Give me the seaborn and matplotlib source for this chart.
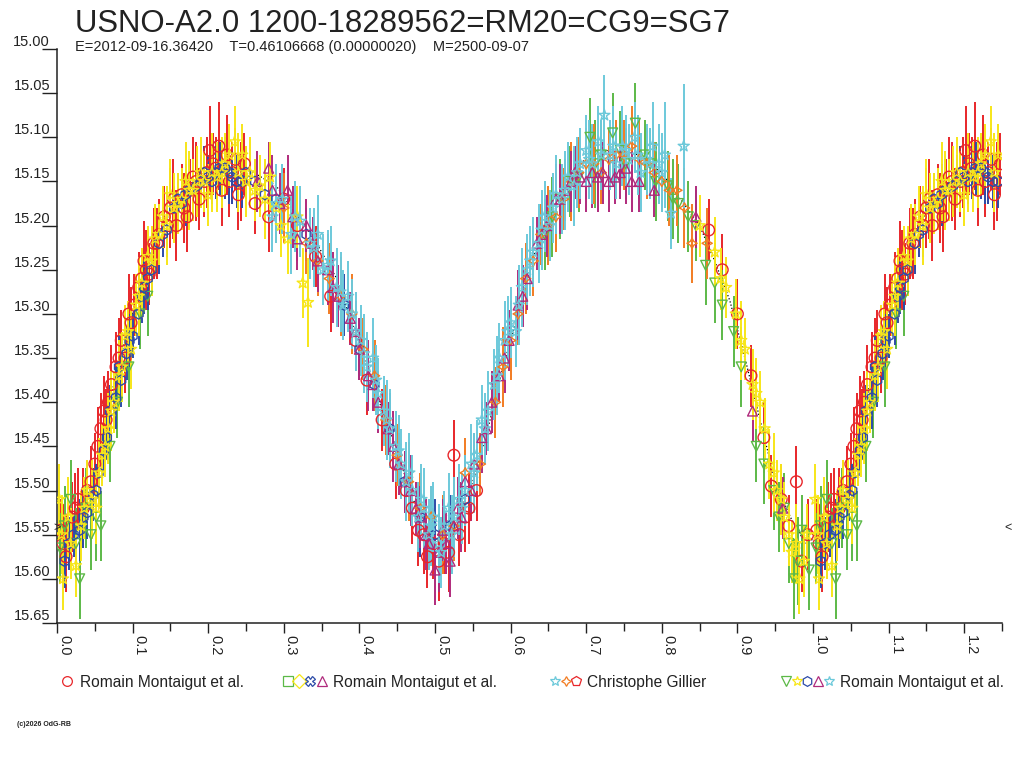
import numpy as np
import pandas as pd
import matplotlib
matplotlib.use("Agg")
import matplotlib.pyplot as plt
import seaborn as sns
from matplotlib.lines import Line2D
from matplotlib.legend_handler import HandlerTuple
from matplotlib.ticker import MultipleLocator, FormatStrFormatter

# --- Light curve data (phase, magnitude, error) ---
red_phase = [0.005, 0.012, 0.020, 0.028, 0.035, 0.045, 0.050, 0.058, 0.065, 0.072,
             0.078, 0.085, 0.090, 0.095, 0.102, 0.108, 0.115, 0.122, 0.128, 0.135,
             0.142, 0.150, 0.158, 0.165, 0.172, 0.180, 0.188, 0.195, 0.202, 0.210,
             0.218, 0.225, 0.232, 0.240, 0.248, 0.262, 0.280, 0.300, 0.318, 0.342,
             0.362, 0.395, 0.410, 0.430, 0.448, 0.462, 0.478, 0.490, 0.505, 0.512,
             0.525, 0.532, 0.545, 0.555, 0.862, 0.880, 0.900, 0.918, 0.935, 0.945,
             0.958, 0.968, 0.978, 0.985, 0.993,
             0.008, 0.024, 0.040, 0.054, 0.062, 0.068, 0.082, 0.098, 0.112, 0.118,
             0.132, 0.146, 0.154, 0.168, 0.176, 0.184, 0.198, 0.206, 0.214, 0.228,
             0.236, 0.244, 0.470, 0.485, 0.498, 0.518, 0.540]
red_mag = [15.545, 15.575, 15.530, 15.510, 15.520, 15.490, 15.470, 15.430, 15.420, 15.380,
           15.360, 15.330, 15.350, 15.300, 15.290, 15.270, 15.240, 15.255, 15.220, 15.210,
           15.190, 15.180, 15.200, 15.165, 15.190, 15.145, 15.170, 15.150, 15.115, 15.135,
           15.160, 15.120, 15.140, 15.165, 15.130, 15.175, 15.190, 15.170, 15.200, 15.235,
           15.280, 15.330, 15.375, 15.420, 15.470, 15.500, 15.545, 15.575, 15.580, 15.560,
           15.460, 15.550, 15.520, 15.500, 15.205, 15.250, 15.300, 15.370, 15.440, 15.495,
           15.510, 15.540, 15.490, 15.580, 15.550,
           15.560, 15.520, 15.500, 15.450, 15.410, 15.400, 15.350, 15.310, 15.260, 15.250,
           15.220, 15.200, 15.170, 15.180, 15.160, 15.150, 15.140, 15.130, 15.110, 15.150,
           15.125, 15.150, 15.520, 15.550, 15.560, 15.570, 15.530]
red_err = [0.035, 0.040, 0.040, 0.035, 0.045, 0.040, 0.035, 0.040, 0.035, 0.045,
           0.040, 0.035, 0.040, 0.045, 0.035, 0.040, 0.045, 0.035, 0.040, 0.040,
           0.035, 0.045, 0.040, 0.035, 0.040, 0.045, 0.035, 0.040, 0.050, 0.035,
           0.040, 0.045, 0.035, 0.040, 0.035, 0.035, 0.040, 0.035, 0.040, 0.035,
           0.040, 0.035, 0.040, 0.035, 0.040, 0.035, 0.040, 0.035, 0.045, 0.035,
           0.040, 0.035, 0.040, 0.035, 0.035, 0.040, 0.040, 0.035, 0.040, 0.035,
           0.040, 0.035, 0.040, 0.035, 0.040,
           0.045, 0.040, 0.035, 0.045, 0.040, 0.035, 0.045, 0.040, 0.035, 0.045,
           0.040, 0.035, 0.045, 0.040, 0.035, 0.045, 0.040, 0.035, 0.050, 0.040,
           0.035, 0.045, 0.040, 0.045, 0.040, 0.045, 0.040]

blue_phase = [0.010, 0.022, 0.030, 0.040, 0.048, 0.055, 0.062, 0.070, 0.078, 0.085,
              0.092, 0.100, 0.108, 0.115, 0.125, 0.135, 0.145, 0.155, 0.165, 0.175,
              0.185, 0.195, 0.205, 0.215, 0.228, 0.238, 0.250, 0.262, 0.275, 0.290,
              0.330, 0.380, 0.420, 0.460, 0.500, 0.540,
              0.016, 0.035, 0.052, 0.066, 0.082, 0.096, 0.112, 0.120, 0.140, 0.160,
              0.170, 0.190, 0.200, 0.210, 0.222, 0.232, 0.245, 0.400, 0.440, 0.480,
              0.520]
blue_mag = [15.580, 15.550, 15.545, 15.525, 15.505, 15.480, 15.455, 15.410, 15.395, 15.375,
            15.345, 15.325, 15.300, 15.270, 15.250, 15.220, 15.205, 15.180, 15.175, 15.160,
            15.155, 15.140, 15.150, 15.135, 15.140, 15.150, 15.140, 15.150, 15.165, 15.170,
            15.210, 15.290, 15.380, 15.490, 15.550, 15.510,
            15.560, 15.530, 15.500, 15.440, 15.360, 15.330, 15.280, 15.260, 15.210, 15.170,
            15.165, 15.150, 15.145, 15.140, 15.135, 15.145, 15.150, 15.340, 15.430, 15.530,
            15.540]
blue_err = [0.030, 0.025, 0.035, 0.030, 0.030, 0.035, 0.025, 0.030, 0.035, 0.030,
            0.030, 0.025, 0.035, 0.030, 0.030, 0.035, 0.030, 0.025, 0.030, 0.035,
            0.030, 0.030, 0.025, 0.030, 0.035, 0.030, 0.030, 0.025, 0.030, 0.030,
            0.030, 0.035, 0.030, 0.035, 0.040, 0.030,
            0.030, 0.035, 0.030, 0.025, 0.035, 0.030, 0.030, 0.035, 0.025, 0.030,
            0.035, 0.030, 0.025, 0.030, 0.035, 0.030, 0.030, 0.035, 0.040, 0.045,
            0.035]

yellow_phase = [0.003, 0.008, 0.015, 0.025, 0.032, 0.040, 0.052, 0.060, 0.068, 0.075,
                0.082, 0.090, 0.098, 0.105, 0.112, 0.120, 0.130, 0.140, 0.150, 0.160,
                0.170, 0.180, 0.190, 0.200, 0.212, 0.222, 0.235, 0.245, 0.255, 0.268,
                0.282, 0.296, 0.305, 0.318, 0.325, 0.332, 0.850, 0.870, 0.885, 0.898,
                0.910, 0.920, 0.930, 0.942, 0.952, 0.962, 0.972, 0.982, 0.992,
                0.006, 0.018, 0.036, 0.046, 0.056, 0.064, 0.072, 0.086, 0.094, 0.108,
                0.125, 0.135, 0.145, 0.155, 0.165, 0.175, 0.185, 0.195, 0.205, 0.218,
                0.228, 0.240, 0.250, 0.262, 0.275, 0.290, 0.878, 0.905, 0.925, 0.936,
                0.948, 0.958, 0.968, 0.978, 0.988]
yellow_mag = [15.510, 15.600, 15.530, 15.585, 15.540, 15.500, 15.520, 15.460, 15.430, 15.400,
              15.370, 15.325, 15.340, 15.290, 15.265, 15.235, 15.215, 15.190, 15.165, 15.175,
              15.150, 15.160, 15.140, 15.165, 15.145, 15.130, 15.105, 15.120, 15.140, 15.155,
              15.145, 15.200, 15.215, 15.190, 15.265, 15.287, 15.200, 15.230, 15.270, 15.300,
              15.340, 15.380, 15.400, 15.470, 15.500, 15.530, 15.570, 15.600, 15.550,
              15.550, 15.560, 15.520, 15.510, 15.480, 15.450, 15.410, 15.360, 15.320, 15.280,
              15.240, 15.210, 15.200, 15.180, 15.170, 15.160, 15.150, 15.150, 15.140, 15.140,
              15.120, 15.140, 15.150, 15.160, 15.170, 15.180, 15.260, 15.330, 15.390, 15.430,
              15.480, 15.510, 15.550, 15.560, 15.580]
yellow_err = [0.040, 0.035, 0.045, 0.035, 0.040, 0.035, 0.040, 0.035, 0.040, 0.035,
              0.040, 0.035, 0.045, 0.035, 0.040, 0.035, 0.040, 0.035, 0.040, 0.035,
              0.045, 0.035, 0.040, 0.035, 0.040, 0.035, 0.040, 0.035, 0.040, 0.035,
              0.040, 0.035, 0.040, 0.035, 0.040, 0.050, 0.035, 0.040, 0.035, 0.040,
              0.035, 0.040, 0.035, 0.040, 0.035, 0.040, 0.035, 0.040, 0.035,
              0.045, 0.040, 0.035, 0.045, 0.040, 0.035, 0.045, 0.040, 0.035, 0.045,
              0.040, 0.035, 0.045, 0.040, 0.035, 0.045, 0.040, 0.035, 0.045, 0.040,
              0.035, 0.045, 0.040, 0.035, 0.045, 0.040, 0.035, 0.045, 0.040, 0.035,
              0.045, 0.040, 0.035, 0.045, 0.040]

green_phase = [0.004, 0.018, 0.030, 0.045, 0.058, 0.080, 0.095, 0.110, 0.120, 0.645,
               0.665, 0.690, 0.705, 0.720, 0.735, 0.752, 0.765, 0.778, 0.792, 0.808,
               0.822, 0.835, 0.858, 0.880, 0.905, 0.925, 0.948, 0.962, 0.975, 0.985,
               0.995,
               0.010, 0.025, 0.038, 0.052, 0.070, 0.655, 0.678, 0.712, 0.745, 0.785,
               0.815, 0.845, 0.870, 0.895, 0.935, 0.955, 0.968, 0.980]
green_mag = [15.565, 15.510, 15.600, 15.550, 15.540, 15.400, 15.360, 15.300, 15.280, 15.210,
             15.170, 15.145, 15.100, 15.120, 15.095, 15.130, 15.084, 15.120, 15.150, 15.155,
             15.175, 15.190, 15.245, 15.290, 15.360, 15.450, 15.500, 15.520, 15.600, 15.545,
             15.590,
             15.540, 15.560, 15.520, 15.530, 15.450, 15.190, 15.150, 15.130, 15.115, 15.130,
             15.170, 15.200, 15.265, 15.320, 15.470, 15.530, 15.560, 15.580]
green_err = [0.040, 0.045, 0.045, 0.040, 0.040, 0.040, 0.045, 0.040, 0.045, 0.040,
             0.045, 0.040, 0.045, 0.040, 0.045, 0.040, 0.045, 0.040, 0.045, 0.040,
             0.045, 0.040, 0.045, 0.040, 0.045, 0.040, 0.045, 0.040, 0.045, 0.040,
             0.045,
             0.045, 0.040, 0.045, 0.050, 0.040, 0.045, 0.040, 0.050, 0.045, 0.040,
             0.045, 0.040, 0.045, 0.040, 0.045, 0.040, 0.045, 0.050]

purple_phase = [0.265, 0.280, 0.295, 0.305, 0.318, 0.330, 0.345, 0.358, 0.372, 0.388,
                0.400, 0.412, 0.425, 0.438, 0.452, 0.468, 0.480, 0.492, 0.500, 0.510,
                0.520, 0.530, 0.540, 0.552, 0.562, 0.575, 0.585, 0.598, 0.610, 0.622,
                0.635, 0.648, 0.660, 0.672, 0.685, 0.700, 0.715, 0.730, 0.745, 0.760,
                0.845, 0.920, 0.960,
                0.285, 0.312, 0.338, 0.365, 0.395, 0.418, 0.445, 0.460, 0.475, 0.488,
                0.505, 0.515, 0.525, 0.535, 0.548, 0.568, 0.592, 0.616, 0.642, 0.666,
                0.680, 0.692, 0.708, 0.722, 0.738, 0.752, 0.770, 0.790]
purple_mag = [15.150, 15.135, 15.175, 15.160, 15.215, 15.200, 15.240, 15.250, 15.280, 15.305,
              15.340, 15.370, 15.400, 15.430, 15.470, 15.500, 15.530, 15.560, 15.590, 15.545,
              15.580, 15.520, 15.490, 15.470, 15.440, 15.400, 15.370, 15.330, 15.290, 15.260,
              15.220, 15.200, 15.170, 15.160, 15.140, 15.150, 15.145, 15.150, 15.140, 15.150,
              15.190, 15.410, 15.520,
              15.160, 15.190, 15.220, 15.270, 15.320, 15.380, 15.450, 15.490, 15.520, 15.550,
              15.570, 15.560, 15.540, 15.530, 15.500, 15.430, 15.350, 15.280, 15.210, 15.170,
              15.150, 15.145, 15.140, 15.140, 15.145, 15.135, 15.150, 15.160]
purple_err = [0.035, 0.030, 0.035, 0.040, 0.035, 0.030, 0.035, 0.040, 0.035, 0.030,
              0.035, 0.040, 0.035, 0.030, 0.035, 0.040, 0.035, 0.030, 0.040, 0.035,
              0.040, 0.035, 0.030, 0.035, 0.040, 0.035, 0.030, 0.035, 0.040, 0.035,
              0.030, 0.035, 0.040, 0.035, 0.030, 0.035, 0.040, 0.035, 0.030, 0.035,
              0.035, 0.035, 0.035,
              0.040, 0.035, 0.030, 0.040, 0.035, 0.030, 0.040, 0.035, 0.030, 0.040,
              0.045, 0.035, 0.030, 0.040, 0.035, 0.030, 0.040, 0.035, 0.030, 0.040,
              0.035, 0.030, 0.040, 0.035, 0.030, 0.040, 0.035, 0.030]

cyan_phase = [0.285, 0.298, 0.310, 0.322, 0.335, 0.345, 0.352, 0.362, 0.370, 0.378,
              0.385, 0.395, 0.402, 0.410, 0.418, 0.425, 0.432, 0.440, 0.448, 0.455,
              0.462, 0.470, 0.478, 0.485, 0.492, 0.498, 0.505, 0.512, 0.518, 0.525,
              0.532, 0.540, 0.548, 0.555, 0.562, 0.570, 0.578, 0.585, 0.592, 0.600,
              0.607, 0.615, 0.622, 0.630, 0.638, 0.645, 0.652, 0.660, 0.668, 0.676,
              0.684, 0.692, 0.700, 0.708, 0.716, 0.724, 0.732, 0.740, 0.748, 0.756,
              0.764, 0.772, 0.780, 0.788, 0.796, 0.804, 0.812, 0.829,
              0.290, 0.315, 0.340, 0.358, 0.375, 0.390, 0.406, 0.422, 0.436, 0.452,
              0.466, 0.482, 0.495, 0.508, 0.522, 0.536, 0.552, 0.566, 0.582, 0.596,
              0.611, 0.626, 0.641, 0.656, 0.672, 0.688, 0.704, 0.720, 0.736, 0.752,
              0.768, 0.784, 0.800]
cyan_mag = [15.190, 15.170, 15.210, 15.195, 15.220, 15.210, 15.250, 15.240, 15.270, 15.290,
            15.280, 15.320, 15.330, 15.360, 15.350, 15.390, 15.410, 15.430, 15.450, 15.470,
            15.490, 15.500, 15.530, 15.520, 15.550, 15.530, 15.560, 15.540, 15.520, 15.530,
            15.510, 15.500, 15.470, 15.460, 15.420, 15.410, 15.380, 15.350, 15.330, 15.310,
            15.320, 15.270, 15.250, 15.230, 15.220, 15.190, 15.200, 15.165, 15.170, 15.145,
            15.155, 15.130, 15.115, 15.130, 15.105, 15.075, 15.120, 15.130, 15.110, 15.125,
            15.100, 15.140, 15.125, 15.110, 15.130, 15.120, 15.186, 15.110,
            15.175, 15.190, 15.225, 15.245, 15.275, 15.300, 15.345, 15.375, 15.420, 15.455,
            15.480, 15.510, 15.540, 15.570, 15.550, 15.520, 15.480, 15.430, 15.370, 15.320,
            15.290, 15.240, 15.205, 15.180, 15.160, 15.140, 15.125, 15.120, 15.110, 15.115,
            15.120, 15.130, 15.140]
cyan_err = [0.040, 0.040, 0.045, 0.040, 0.040, 0.045, 0.040, 0.040, 0.045, 0.040,
            0.040, 0.045, 0.040, 0.040, 0.045, 0.040, 0.040, 0.045, 0.040, 0.040,
            0.045, 0.040, 0.040, 0.045, 0.040, 0.040, 0.045, 0.040, 0.040, 0.045,
            0.040, 0.040, 0.045, 0.040, 0.040, 0.045, 0.040, 0.040, 0.045, 0.040,
            0.040, 0.045, 0.040, 0.040, 0.045, 0.040, 0.040, 0.045, 0.040, 0.040,
            0.045, 0.040, 0.040, 0.045, 0.040, 0.045, 0.040, 0.040, 0.045, 0.040,
            0.040, 0.045, 0.040, 0.050, 0.045, 0.060, 0.040, 0.070,
            0.045, 0.040, 0.045, 0.040, 0.045, 0.040, 0.045, 0.040, 0.045, 0.040,
            0.045, 0.040, 0.045, 0.040, 0.045, 0.040, 0.045, 0.040, 0.045, 0.040,
            0.045, 0.040, 0.045, 0.040, 0.045, 0.040, 0.045, 0.040, 0.045, 0.040,
            0.045, 0.040, 0.045]

orange_phase = [0.300, 0.330, 0.360, 0.390, 0.420, 0.450, 0.480, 0.510, 0.540, 0.560,
                0.580, 0.600, 0.620, 0.640, 0.660, 0.680, 0.700, 0.720, 0.740, 0.760,
                0.780, 0.800, 0.820, 0.840,
                0.345, 0.375, 0.405, 0.435, 0.465, 0.495, 0.525, 0.590, 0.610, 0.630,
                0.650, 0.670, 0.690, 0.710, 0.730, 0.750, 0.770, 0.790, 0.810, 0.830,
                0.860]
orange_mag = [15.180, 15.220, 15.260, 15.300, 15.370, 15.460, 15.520, 15.550, 15.480, 15.470,
              15.400, 15.330, 15.260, 15.210, 15.190, 15.150, 15.130, 15.140, 15.120, 15.110,
              15.130, 15.150, 15.160, 15.220,
              15.240, 15.280, 15.340, 15.420, 15.490, 15.530, 15.540, 15.360, 15.300, 15.240,
              15.200, 15.170, 15.140, 15.130, 15.125, 15.120, 15.125, 15.140, 15.160, 15.180,
              15.220]
orange_err = [0.040, 0.035, 0.040, 0.045, 0.040, 0.035, 0.040, 0.045, 0.040, 0.035,
              0.040, 0.045, 0.040, 0.035, 0.040, 0.045, 0.040, 0.035, 0.040, 0.045,
              0.040, 0.035, 0.040, 0.045,
              0.040, 0.045, 0.035, 0.040, 0.045, 0.035, 0.040, 0.045, 0.035, 0.040,
              0.045, 0.035, 0.040, 0.045, 0.035, 0.040, 0.045, 0.035, 0.040, 0.045,
              0.040]

# mean light curve (black dotted trace)
mean_phase = [0.00, 0.02, 0.04, 0.06, 0.07, 0.08, 0.10, 0.11, 0.12, 0.14, 0.16, 0.18,
              0.21, 0.24, 0.26, 0.29, 0.31, 0.34, 0.37, 0.39, 0.42, 0.45, 0.47, 0.50,
              0.53, 0.55, 0.57, 0.59, 0.61, 0.63, 0.65, 0.67, 0.69, 0.72, 0.745, 0.77,
              0.80, 0.82, 0.85, 0.87, 0.89, 0.91, 0.93, 0.95, 0.97, 0.99]
mean_mag = [15.555, 15.54, 15.51, 15.45, 15.40, 15.36, 15.30, 15.27, 15.24, 15.20, 15.17, 15.15,
            15.14, 15.135, 15.14, 15.155, 15.18, 15.215, 15.26, 15.31, 15.385, 15.455, 15.51, 15.54,
            15.53, 15.49, 15.43, 15.36, 15.30, 15.235, 15.19, 15.155, 15.13, 15.115, 15.115, 15.12,
            15.14, 15.165, 15.20, 15.24, 15.285, 15.35, 15.42, 15.49, 15.53, 15.56]

TITLE = "USNO-A2.0 1200-18289562=RM20=CG9=SG7"
SUBTITLE = "E=2012-09-16.36420    T=0.46106668 (0.00000020)    M=2500-09-07"
MIN_MAG = 15.542

RED = "#e8262a"
BLUE = "#2d4ca8"
YELLOW = "#f7e619"
GREEN = "#5cb947"
PURPLE = "#b02a7c"
CYAN = "#6cc9da"
ORANGE = "#f27c22"
TXT = "#222222"


def fold(phase, mag, err):
    # plot phase 0..0.25 a second time after 1.0
    n = min(len(phase), len(mag), len(err))
    df = pd.DataFrame({"phase": phase[:n], "mag": mag[:n], "err": err[:n]})
    extra = df[df["phase"] < 0.25].copy()
    extra["phase"] += 1.0
    return pd.concat([df, extra], ignore_index=True)


series = [
    (red_phase, red_mag, red_err, RED, "o", 70),
    (green_phase, green_mag, green_err, GREEN, "v", 50),
    (blue_phase, blue_mag, blue_err, BLUE, "h", 55),
    (orange_phase, orange_mag, orange_err, ORANGE, (4, 1, 0), 55),
    (purple_phase, purple_mag, purple_err, PURPLE, "^", 50),
    (yellow_phase, yellow_mag, yellow_err, YELLOW, "*", 70),
    (cyan_phase, cyan_mag, cyan_err, CYAN, "*", 70),
]

sns.set_theme(style="white")
plt.rcParams["font.family"] = ["Liberation Sans", "DejaVu Sans"]

fig = plt.figure(figsize=(10.24, 7.68), dpi=100)
ax = fig.add_axes([57 / 1024, 1 - 623 / 768, 945 / 1024, 574 / 768])

mean_df = fold(mean_phase, mean_mag, [0.0] * len(mean_phase)).sort_values("phase")
ax.plot(mean_df["phase"], mean_df["mag"], color="black", ls=":", lw=0.9, zorder=1)

for ph, mg, er, col, mk, sz in series:
    df = fold(ph, mg, er)
    ax.vlines(df["phase"], df["mag"] - df["err"], df["mag"] + df["err"],
              color=col, lw=1.4, zorder=2)
    sns.scatterplot(x=df["phase"], y=df["mag"], marker=mk, s=sz, color=col,
                    facecolor="none", edgecolor=col, linewidth=1.0, ax=ax,
                    zorder=3, legend=False)

ax.set_xlim(0, 1.25)
ax.set_ylim(15.65, 15.0)
ax.set_xlabel("")
ax.set_ylabel("")

ax.xaxis.set_major_locator(MultipleLocator(0.1))
ax.xaxis.set_minor_locator(MultipleLocator(0.05))
ax.xaxis.set_major_formatter(FormatStrFormatter("%.1f"))
ax.yaxis.set_major_locator(MultipleLocator(0.05))
ax.yaxis.set_major_formatter(FormatStrFormatter("%.2f"))

for s in ["top", "right"]:
    ax.spines[s].set_visible(False)
for s in ["left", "bottom"]:
    ax.spines[s].set_color("#222222")
    ax.spines[s].set_linewidth(1.1)

ax.tick_params(axis="x", which="major", direction="out", length=7.5, width=1.0,
               color="#222222", labelsize=10.5, labelcolor=TXT, pad=1, bottom=True)
ax.tick_params(axis="x", which="minor", direction="out", length=6, width=1.0,
               color="#222222", bottom=True)
ax.tick_params(axis="y", which="major", direction="out", length=11, width=1.0,
               color="#222222", labelsize=10.5, labelcolor=TXT, pad=-6, left=True)
for lab in ax.get_xticklabels():
    lab.set_rotation(-90)
    lab.set_horizontalalignment("left")
    lab.set_verticalalignment("top")
for lab in ax.get_yticklabels():
    lab.set_verticalalignment("bottom")

# min level markers on both sides
ax.text(-0.004, MIN_MAG, ">", transform=ax.get_yaxis_transform(), ha="left",
        va="center", fontsize=9, color=TXT, zorder=6)
ax.text(1.003, MIN_MAG, "<", transform=ax.get_yaxis_transform(), ha="left",
        va="center", fontsize=9, color=TXT)

fig.text(75 / 1024, 1 - 9 / 768, TITLE, fontsize=22.4, color=TXT, ha="left", va="top")
fig.text(75 / 1024, 1 - 47 / 768, SUBTITLE, fontsize=10.5, color=TXT, ha="left", va="center")
fig.text(17 / 1024, 1 - 725 / 768, "(c)2026 OdG-RB", fontsize=5, color=TXT,
         ha="left", va="center", weight="bold")

# --- legend: four groups, each its own row entry ---
def mk(marker, col):
    return Line2D([], [], ls="none", marker=marker, ms=7, mfc="none", mec=col, mew=0.9)

groups = [
    ((mk("o", RED),), "Romain Montaigut et al.", 60, 0.9),
    ((mk("s", GREEN), mk("D", YELLOW), mk("X", BLUE), mk("^", PURPLE)),
     "Romain Montaigut et al.", 283, 2.8),
    ((mk("*", CYAN), mk((4, 1, 0), ORANGE), mk("p", RED)), "Christophe Gillier", 550, 2.0),
    ((mk("v", GREEN), mk("*", YELLOW), mk("h", BLUE), mk("^", PURPLE), mk("*", CYAN)),
     "Romain Montaigut et al.", 781, 3.4),
]
for handles, label, xpx, hl in groups:
    fig.legend([handles], [label], loc="center left",
               bbox_to_anchor=(xpx / 1024, 1 - 682 / 768), frameon=False,
               handler_map={tuple: HandlerTuple(ndivide=None, pad=0.1)},
               handlelength=hl, handletextpad=0.4, borderpad=0, borderaxespad=0,
               prop={"size": 11.2}, labelcolor=TXT)

fig.savefig("out.png", dpi=100, facecolor="white")
